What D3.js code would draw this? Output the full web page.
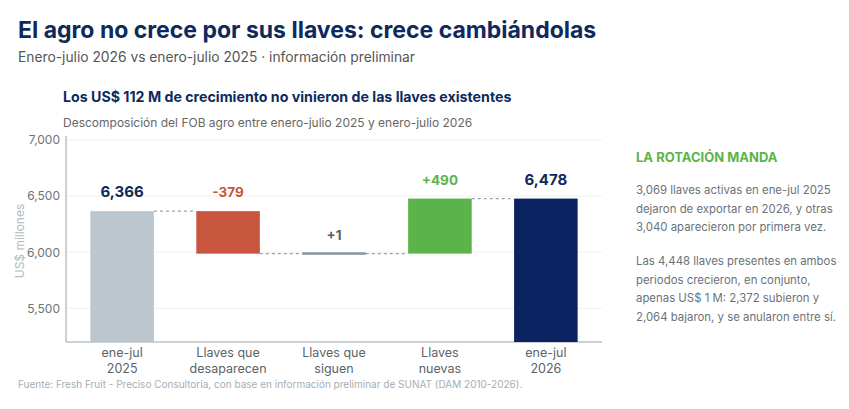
<!DOCTYPE html>
<html>
<head>
<meta charset="utf-8">
<script src="https://cdn.jsdelivr.net/npm/d3@7"></script>
<style>
  body { margin: 0; background: #fff; }
  svg { font-family: Inter, "Open Sans", sans-serif; }
</style>
</head>
<body>
<svg id="chart" width="849" height="409"></svg>
<script>
// waterfall data
var categories = [["ene-jul", "2025"], ["Llaves que", "desaparecen"], ["Llaves que", "siguen"], ["Llaves", "nuevas"], ["ene-jul", "2026"]];
var values = [6366, -379, 1, 490, 6478];
var kinds = ["total", "neg", "flat", "pos", "total"];
var labels = ["6,366", "-379", "+1", "+490", "6,478"];
var yTicks = [5500, 6000, 6500, 7000];

var sideTitle = "LA ROTACIÓN MANDA";
var sideLines1 = ["3,069 llaves activas en ene-jul 2025", "dejaron de exportar en 2026, y otras", "3,040 aparecieron por primera vez."];
var sideLines2 = ["Las 4,448 llaves presentes en ambos", "periodos crecieron, en conjunto,", "apenas US$ 1 M: 2,372 subieron y", "2,064 bajaron, y se anularon entre sí."];

var colors = { total: "#bcc6cf", neg: "#c8553d", flat: "#8a949c", pos: "#5bb449", last: "#0b2461" };
var labelColors = { total: "#0e2a5c", neg: "#c8553d", flat: "#555e66", pos: "#5bb449" };

var svg = d3.select('#chart');

// titles
svg.append('text').attr('x', 18).attr('y', 38)
  .style('font-size', '23px').style('font-weight', 700).style('fill', '#0e2a5c')
  .text('El agro no crece por sus llaves: crece cambiándolas');
svg.append('text').attr('x', 18).attr('y', 62)
  .style('font-size', '13.8px').style('fill', '#555')
  .text('Enero-julio 2026 vs enero-julio 2025 · información preliminar');
svg.append('text').attr('x', 63).attr('y', 102)
  .style('font-size', '14.2px').style('font-weight', 700).style('fill', '#0e2a5c')
  .text('Los US$ 112 M de crecimiento no vinieron de las llaves existentes');
svg.append('text').attr('x', 63).attr('y', 127)
  .style('font-size', '12px').style('fill', '#666')
  .text('Descomposición del FOB agro entre enero-julio 2025 y enero-julio 2026');

// build waterfall steps
var running = 0;
var steps = values.map(function(v, i) {
  var s;
  if (kinds[i] == "total") {
    s = { start: 0, end: v };
    running = v;
  } else {
    s = { start: running, end: running + v };
    running = running + v;
  }
  s.kind = kinds[i];
  s.i = i;
  return s;
});

var xScale = d3.scaleBand().domain(d3.range(categories.length))
  .range([66, 602]).paddingInner(0.4).paddingOuter(0.23);
var yScale = d3.scaleLinear().domain([5200, 7000]).range([342, 140]);

// grid
svg.append('g').selectAll('line').data(yTicks).enter().append('line')
  .attr('x1', 66).attr('x2', 602)
  .attr('y1', function(d) { return yScale(d); })
  .attr('y2', function(d) { return yScale(d); })
  .style('stroke', '#f0f0f0');

// y axis
var yAxis = d3.axisLeft(yScale).tickValues(yTicks).tickFormat(d3.format(',')).tickSize(0).tickPadding(6);
var yG = svg.append('g').attr('transform', 'translate(66,0)').call(yAxis);
yG.select('.domain').attr('d', 'M0,136V342').style('stroke', '#9aa3ab');
yG.selectAll('text').style('font-size', '12px').style('fill', '#6b7278').style('font-family', 'Inter, sans-serif');

svg.append('text')
  .attr('transform', 'translate(24,' + yScale(6100) + ') rotate(-90)')
  .attr('text-anchor', 'middle')
  .style('font-size', '12px').style('fill', '#b3bac0')
  .text('US$ millones');

// x axis line
svg.append('line').attr('x1', 66).attr('x2', 602).attr('y1', 342).attr('y2', 342)
  .style('stroke', '#9aa3ab');

// bars
svg.append('g').selectAll('rect').data(steps).enter().append('rect')
  .attr('x', function(d) { return xScale(d.i); })
  .attr('width', xScale.bandwidth())
  .attr('y', function(d) {
    if (d.kind == "total") return yScale(d.end);
    var top = yScale(Math.max(d.start, d.end));
    var h = Math.abs(yScale(d.start) - yScale(d.end));
    return h < 2.5 ? yScale(d.end) - 1.25 : top;
  })
  .attr('height', function(d) {
    if (d.kind == "total") return 342 - yScale(d.end);
    var h = Math.abs(yScale(d.start) - yScale(d.end));
    return Math.max(h, 2.5);
  })
  .style('fill', function(d) {
    if (d.kind == "total") return d.i == 0 ? colors.total : colors.last;
    return colors[d.kind];
  });

// connectors
svg.append('g').selectAll('line').data(steps.slice(0, -1)).enter().append('line')
  .attr('x1', function(d) { return xScale(d.i) + xScale.bandwidth(); })
  .attr('x2', function(d) { return xScale(d.i + 1); })
  .attr('y1', function(d) { return yScale(d.end); })
  .attr('y2', function(d) { return yScale(d.end); })
  .style('stroke', '#9aa3ab').style('stroke-width', 1.2).style('stroke-dasharray', '3,3');

// value labels
svg.append('g').selectAll('text').data(steps).enter().append('text')
  .attr('x', function(d) { return xScale(d.i) + xScale.bandwidth() / 2; })
  .attr('y', function(d) { return yScale(Math.max(d.start, d.end)) - 14; })
  .attr('text-anchor', 'middle')
  .style('font-weight', 700)
  .style('font-size', function(d) { return d.kind == "total" ? '15px' : '13.5px'; })
  .style('fill', function(d) { return labelColors[d.kind]; })
  .text(function(d) { return labels[d.i]; });

// category labels
var catG = svg.append('g').selectAll('text').data(categories).enter().append('text')
  .attr('text-anchor', 'middle')
  .style('font-size', '12.5px').style('fill', '#5b636a');
catG.each(function(lines, i) {
  var t = d3.select(this);
  lines.forEach(function(l, j) {
    t.append('tspan').attr('x', xScale(i) + xScale.bandwidth() / 2).attr('y', 357 + j * 16).text(l);
  });
});

// side panel
svg.append('text').attr('x', 636).attr('y', 162)
  .style('font-size', '13px').style('font-weight', 700).style('fill', '#5bb449')
  .text(sideTitle);
function addLines(lines, y0) {
  svg.append('g').selectAll('text').data(lines).enter().append('text')
    .attr('x', 636).attr('y', function(d, i) { return y0 + i * 18.5; })
    .style('font-size', '11.4px').style('fill', '#6b7278')
    .text(function(d) { return d; });
}
addLines(sideLines1, 194);
addLines(sideLines2, 265);

// source
svg.append('text').attr('x', 18).attr('y', 388)
  .style('font-size', '10px').style('fill', '#a7adb2')
  .text('Fuente: Fresh Fruit - Preciso Consultoria, con base en información preliminar de SUNAT (DAM 2010-2026).');
</script>
</body>
</html>
